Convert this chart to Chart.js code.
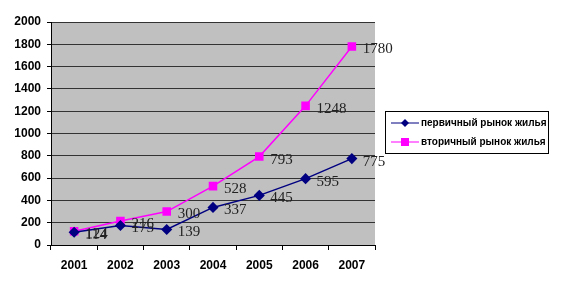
<!DOCTYPE html>
<html>
<head>
<meta charset="utf-8">
<script src="https://cdn.jsdelivr.net/npm/chart.js@4"></script>
<style>
  body { margin: 0; background: #fff; }
  canvas { display: block; }
</style>
</head>
<body>
<canvas id="myChart" width="568" height="286"></canvas>
<script>
const years = ['2001', '2002', '2003', '2004', '2005', '2006', '2007'];
const primaryValues = [114, 175, 139, 337, 445, 595, 775];
const secondaryValues = [124, 216, 300, 528, 793, 1248, 1780];
const seriesNames = ['первичный рынок жилья', 'вторичный рынок жилья'];
const yTicks = [0, 200, 400, 600, 800, 1000, 1200, 1400, 1600, 1800, 2000];

// gray plot background
const plotBg = {
    id: 'plotBg',
    beforeDraw(chart) {
        const a = chart.chartArea;
        const ctx = chart.ctx;
        ctx.save();
        ctx.fillStyle = '#c0c0c0';
        ctx.fillRect(a.left, a.top, a.right - a.left, a.bottom - a.top);
        ctx.restore();
    }
};

// value labels next to points
const valueLabels = {
    id: 'valueLabels',
    afterDatasetsDraw(chart) {
        const ctx = chart.ctx;
        ctx.save();
        ctx.font = '15px "Liberation Serif", "Times New Roman", serif';
        ctx.fillStyle = '#222';
        ctx.textBaseline = 'middle';
        chart.data.datasets.forEach((ds, i) => {
            chart.getDatasetMeta(i).data.forEach((pt, j) => {
                ctx.fillText(String(ds.data[j]), pt.x + 11, pt.y + 3);
            });
        });
        ctx.restore();
    }
};

// legend box on the right
const sideLegend = {
    id: 'sideLegend',
    afterDraw(chart) {
        const ctx = chart.ctx;
        const x = 385, y = 111, w = 163, h = 42;
        ctx.save();
        ctx.strokeStyle = '#000';
        ctx.lineWidth = 1;
        ctx.strokeRect(x + 0.5, y + 0.5, w, h);
        ctx.font = 'bold 10px "Liberation Sans", Arial, sans-serif';
        ctx.textBaseline = 'middle';
        chart.data.datasets.forEach((ds, i) => {
            const cy = y + 12 + i * 19;
            ctx.strokeStyle = ds.borderColor;
            ctx.beginPath();
            ctx.moveTo(x + 6, cy);
            ctx.lineTo(x + 34, cy);
            ctx.stroke();
            ctx.fillStyle = ds.backgroundColor;
            if (i === 0) {
                ctx.beginPath();
                ctx.moveTo(x + 20, cy - 4);
                ctx.lineTo(x + 24, cy);
                ctx.lineTo(x + 20, cy + 4);
                ctx.lineTo(x + 16, cy);
                ctx.closePath();
                ctx.fill();
            } else {
                ctx.fillRect(x + 16, cy - 4, 8, 8);
            }
            ctx.fillStyle = '#000';
            ctx.fillText(seriesNames[i], x + 36, cy);
        });
        ctx.restore();
    }
};

const ctx = document.getElementById('myChart').getContext('2d');
new Chart(ctx, {
    type: 'line',
    data: {
        labels: years,
        datasets: [{
            label: seriesNames[0],
            data: primaryValues,
            borderColor: '#000080',
            backgroundColor: '#000080',
            borderWidth: 1.5,
            pointStyle: 'rectRot',
            pointRadius: 4.5,
            pointHoverRadius: 4.5,
            tension: 0
        }, {
            label: seriesNames[1],
            data: secondaryValues,
            borderColor: '#ff00ff',
            backgroundColor: '#ff00ff',
            borderWidth: 1.5,
            pointStyle: 'rect',
            pointRadius: 5,
            pointHoverRadius: 5,
            tension: 0
        }]
    },
    options: {
        responsive: false,
        animation: false,
        layout: { padding: { left: 0, top: 22, right: 193, bottom: 0 } },
        plugins: {
            legend: { display: false },
            tooltip: { enabled: false }
        },
        scales: {
            x: {
                offset: true,
                grid: {
                    offset: true,
                    drawOnChartArea: false,
                    drawTicks: true,
                    tickLength: 5,
                    color: '#000'
                },
                border: { color: '#000', width: 1 },
                ticks: {
                    color: '#000',
                    padding: 8,
                    font: { family: '"Liberation Sans", Arial, sans-serif', size: 12, weight: 'bold' }
                },
                afterFit(scale) { scale.height = 41; }
            },
            y: {
                min: 0,
                max: 2000,
                afterBuildTicks(scale) { scale.ticks = yTicks.map(v => ({ value: v })); },
                grid: {
                    color: '#333',
                    lineWidth: 1,
                    tickLength: 4,
                    tickColor: '#000'
                },
                border: { color: '#000', width: 1 },
                ticks: {
                    color: '#000',
                    padding: 6,
                    callback: v => String(v),
                    font: { family: '"Liberation Sans", Arial, sans-serif', size: 12, weight: 'bold' }
                },
                afterFit(scale) { scale.width = 51; }
            }
        }
    },
    plugins: [plotBg, valueLabels, sideLegend]
});
</script>
</body>
</html>
